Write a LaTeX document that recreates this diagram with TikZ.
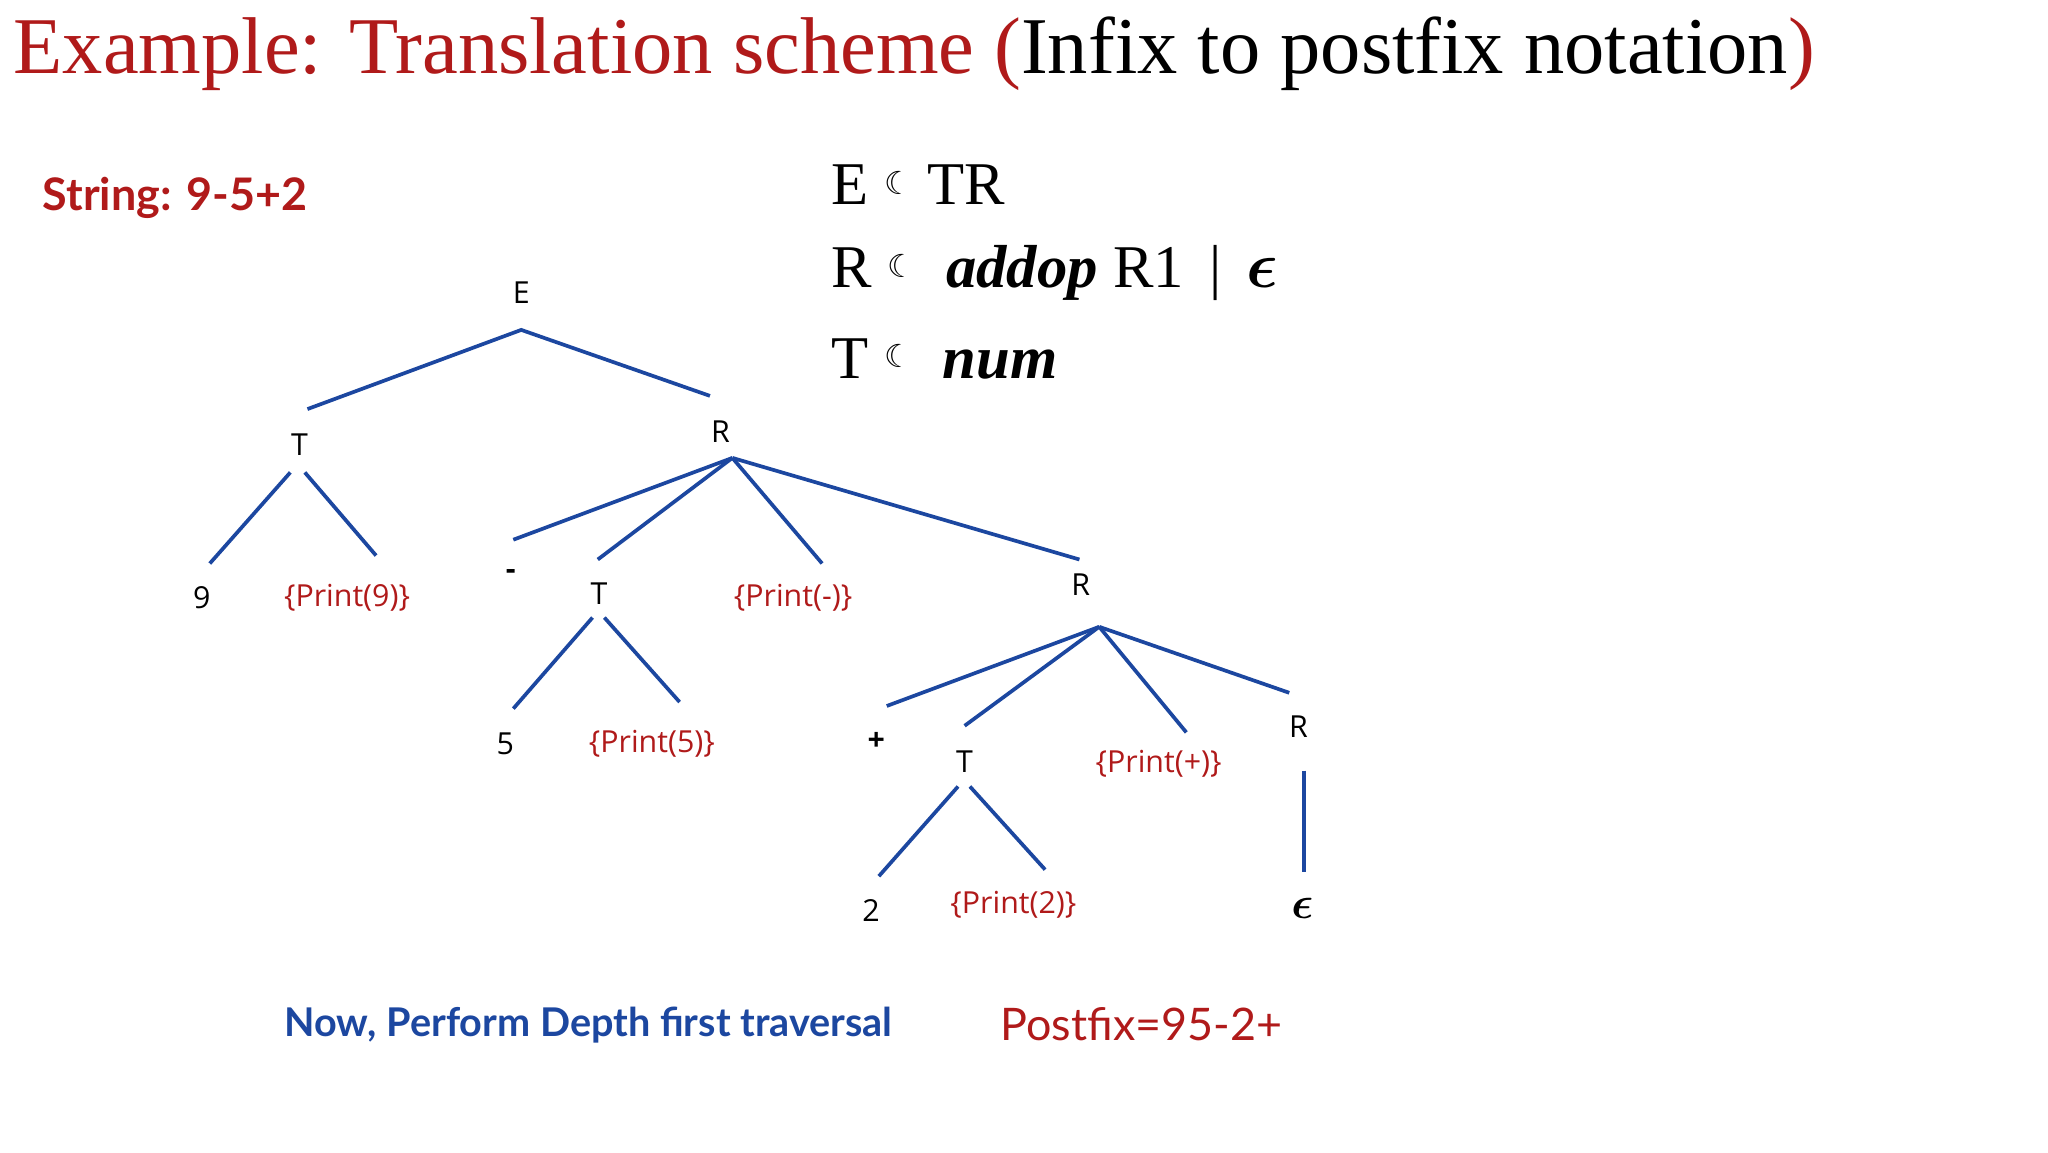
\documentclass[tikz,border=0pt]{standalone}
\usepackage{fontspec}
\usepackage{amsmath}
\setmainfont{Liberation Serif}
\newfontfamily\lato{Lato}
\newfontfamily\osans{Open Sans}
\newfontfamily\djsym{DejaVu Sans}
\definecolor{tred}{HTML}{B01A1A}
\definecolor{tblue}{HTML}{1C47A0}
\begin{document}
\begin{tikzpicture}[x=0.5pt,y=-0.5pt,
  lab/.style={font=\osans\fontsize{11.5}{13}\selectfont,inner sep=0},
  act/.style={lab,text=tred},
  br/.style={draw=tblue,line width=1.4pt}]
\useasboundingbox[fill=white] (0,0) rectangle (1552,873);
\node[anchor=base west,inner sep=0,font=\fontsize{30.5}{32}\selectfont] (title) at (10,56)
  {\textcolor{tred}{Example: Translation scheme (}Infix to postfix notation\textcolor{tred}{)}};
\node[anchor=west,inner sep=0,text=tred,font=\lato\bfseries\fontsize{17}{20}\selectfont] (str) at (32,150) {String: 9-5+2};
\node[anchor=west,inner sep=0,font=\fontsize{23}{26}\selectfont] (g1) at (630,140) {E {\djsym\fontsize{12}{14}\selectfont\raisebox{4pt}{☾}} TR};
\node[anchor=west,inner sep=0,font=\fontsize{23}{26}\selectfont] (g2) at (630,207) {R {\djsym\fontsize{12}{14}\selectfont\raisebox{4pt}{☾}}\ \ \textbf{\textit{addop}} R1 \,|\, $\boldsymbol{\epsilon}$};
\node[anchor=west,inner sep=0,font=\fontsize{23}{26}\selectfont] (g3) at (630,272) {T {\djsym\fontsize{12}{14}\selectfont\raisebox{4pt}{☾}}\ \ \textbf{\textit{num}}};
% labels
\node[lab] (E) at (395,222) {E};
\node[lab] (T1) at (227,337) {T};
\node[lab] (n9) at (153,453) {9};
\node[act] (p9) at (263,453) {\{Print(9)\}};
\node[lab] (R1) at (546,327) {R};
\node[lab,font=\osans\bfseries\fontsize{11.5}{13}\selectfont] (minus) at (387,435) {-};
\node[lab] (T2) at (454,450) {T};
\node[act] (pm) at (601,453) {\{Print(-)\}};
\node[lab] (R2) at (819,443) {R};
\node[lab] (n5) at (383,564) {5};
\node[act] (p5) at (494,564) {\{Print(5)\}};
\node[lab,font=\osans\bfseries\fontsize{11.5}{13}\selectfont] (plus) at (664,562) {+};
\node[lab] (T3) at (731,577) {T};
\node[act] (pp) at (878,579) {\{Print(+)\}};
\node[lab] (R3) at (984,551) {R};
\node[lab] (n2) at (660,690) {2};
\node[act] (p2) at (768,686) {\{Print(2)\}};
\node[lab,font=\fontsize{17}{18}\selectfont] (eps) at (987,688) {$\boldsymbol{\epsilon}$};
% line endpoints
\coordinate (e0) at (395,250); \coordinate (e1) at (233,310); \coordinate (e2) at (538,300);
\coordinate (ta) at (220,358); \coordinate (tb) at (231,358);
\coordinate (t9) at (159,427); \coordinate (tp9) at (285,421);
\coordinate (r0) at (555,347); \coordinate (rm) at (389,409); \coordinate (rt) at (453,424);
\coordinate (rp) at (623,427); \coordinate (rr) at (818,424);
\coordinate (ua) at (449,468); \coordinate (ub) at (458,468);
\coordinate (u5) at (389,537); \coordinate (up5) at (515,532);
\coordinate (s0) at (833,475); \coordinate (s1) at (672,535); \coordinate (s2) at (731,550);
\coordinate (s3) at (899,555); \coordinate (s4) at (977,525);
\coordinate (va) at (726,596); \coordinate (vb) at (735,596);
\coordinate (v2) at (666,664); \coordinate (vp2) at (792,659);
\coordinate (w0) at (988,584); \coordinate (w1) at (988,661);
\draw[br] (e1) -- (e0) -- (e2);
\draw[br] (ta) -- (t9); \draw[br] (tb) -- (tp9);
\draw[br] (r0) -- (rm); \draw[br] (r0) -- (rt); \draw[br] (r0) -- (rp); \draw[br] (r0) -- (rr);
\draw[br] (ua) -- (u5); \draw[br] (ub) -- (up5);
\draw[br] (s0) -- (s1); \draw[br] (s0) -- (s2); \draw[br] (s0) -- (s3); \draw[br] (s0) -- (s4);
\draw[br] (va) -- (v2); \draw[br] (vb) -- (vp2);
\draw[br] (w0) -- (w1);
\node[inner sep=0,text=tblue,font=\lato\bfseries\fontsize{15}{18}\selectfont] (now) at (446,777) {Now, Perform Depth first traversal};
\node[inner sep=0,text=tred,font=\lato\fontsize{17}{20}\selectfont] (pf) at (865,776) {Postfix=95-2+};
\end{tikzpicture}
\end{document}
